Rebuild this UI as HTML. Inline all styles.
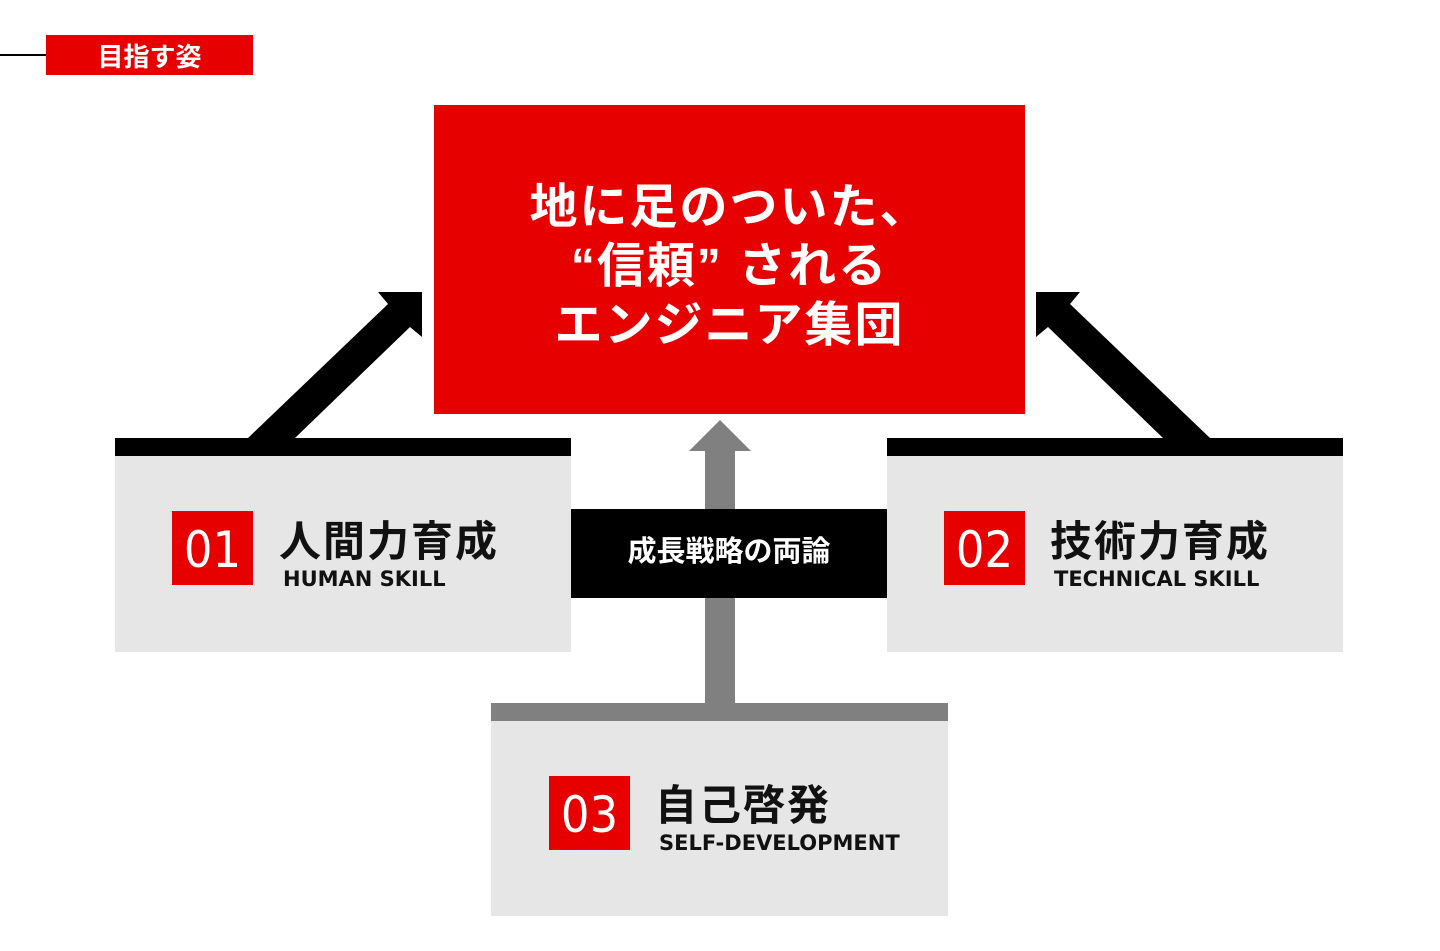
<!DOCTYPE html>
<html><head><meta charset="utf-8"><style>
body{margin:0;width:1440px;height:951px;background:#fff;position:relative;overflow:hidden;font-family:"Liberation Sans","Noto Sans CJK JP",sans-serif}
div{position:absolute;box-sizing:border-box}
.g{background:#e6e6e6}
.num{background:#e60000;color:#fff;font-size:50px;text-align:center;line-height:78px;font-family:"Liberation Sans Narrow","DejaVu Sans Condensed","Liberation Sans",sans-serif;width:81px;height:74px;overflow:hidden}
.jp{font-size:42px;font-weight:bold;color:#111;white-space:nowrap;letter-spacing:2px;line-height:50px}
.en{font-size:21px;font-weight:bold;color:#111;white-space:nowrap;font-family:"DejaVu Sans","Liberation Sans",sans-serif;line-height:26px}
</style></head><body>
<div style="left:0;top:54px;width:46px;height:2px;background:#000"></div>
<div style="left:46px;top:35px;width:207px;height:40px;background:#e60000;color:#fff;font-size:26px;font-weight:bold;text-align:center;line-height:44px">目指す姿</div>
<div style="left:434px;top:105px;width:591px;height:309px;background:#e60000"></div>
<div style="left:434px;top:178px;width:591px;color:#fff;font-size:48px;font-weight:bold;line-height:59px;text-align:center;white-space:nowrap;letter-spacing:2px">地に足のついた、<br>“信頼”&nbsp;される<br>エンジニア集団</div>
<svg style="position:absolute;left:0;top:0" width="1440" height="951">
<polygon points="248,438 295,438 410,327 422,337 422,292 378,292 388,304" fill="#000"/>
<polygon points="1210,438 1163,438 1048,327 1036,337 1036,292 1080,292 1070,304" fill="#000"/>
<polygon points="705,703 735,703 735,451 751,451 720,420 689,451 705,451" fill="#808080"/>
</svg>
<div style="left:115px;top:438px;width:456px;height:18px;background:#000"></div>
<div class="g" style="left:115px;top:456px;width:456px;height:196px"></div>
<div style="left:887px;top:438px;width:456px;height:18px;background:#000"></div>
<div class="g" style="left:887px;top:456px;width:456px;height:196px"></div>
<div style="left:491px;top:703px;width:457px;height:18px;background:#808080"></div>
<div class="g" style="left:491px;top:721px;width:457px;height:195px"></div>
<div style="left:571px;top:509px;width:316px;height:89px;background:#000;color:#fff;font-size:29px;font-weight:bold;text-align:center;line-height:86px">成長戦略の両論</div>
<div class="num" style="left:172px;top:511px">01</div>
<div class="jp" style="left:279px;top:517px">人間力育成</div>
<div class="en" style="left:283px;top:566px">HUMAN SKILL</div>
<div class="num" style="left:944px;top:511px">02</div>
<div class="jp" style="left:1050px;top:517px">技術力育成</div>
<div class="en" style="left:1054px;top:566px">TECHNICAL SKILL</div>
<div class="num" style="left:549px;top:776px">03</div>
<div class="jp" style="left:655px;top:781px">自己啓発</div>
<div class="en" style="left:659px;top:830px">SELF-DEVELOPMENT</div>
</body></html>
